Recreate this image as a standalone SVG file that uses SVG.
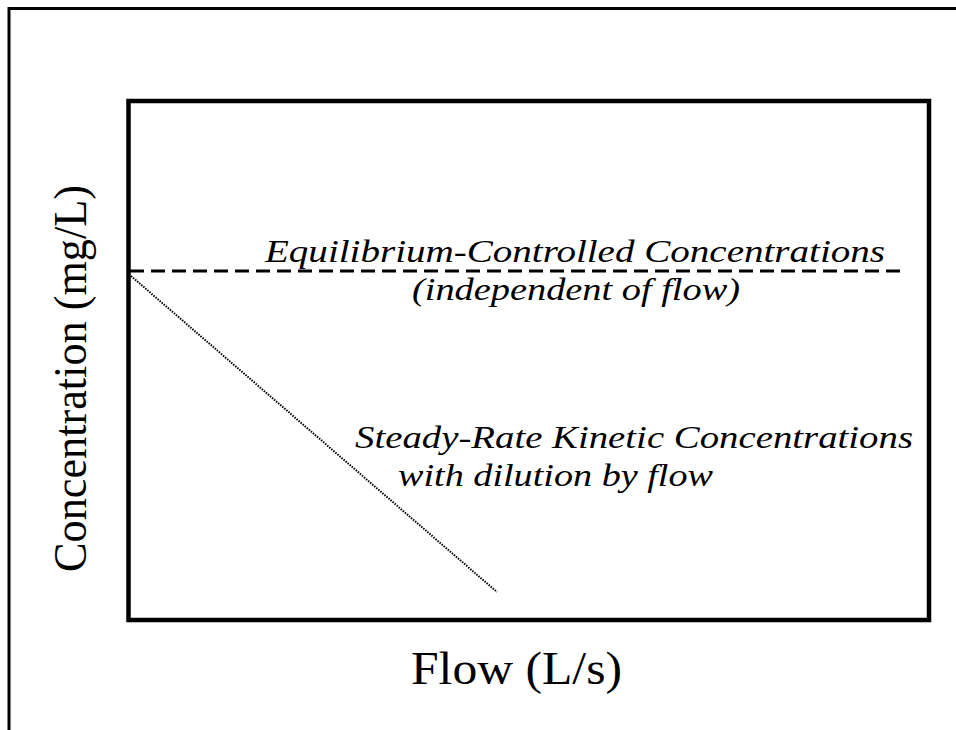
<svg xmlns="http://www.w3.org/2000/svg" width="956" height="730" viewBox="0 0 956 730">
<style>
.lbl{font-family:"Liberation Serif","Times New Roman",serif;font-style:italic;font-size:31px;fill:#000}
.ax{font-family:"Liberation Serif","Times New Roman",serif;font-size:46px;fill:#000}
</style>
<rect width="956" height="730" fill="#fff"/>
<g id="frame">
<path d="M9,730 V8.5 H956" fill="none" stroke="#000" stroke-width="3"/>
</g>
<g id="plot">
<rect x="128.5" y="101" width="800.5" height="519" fill="none" stroke="#000" stroke-width="4.5"/>
</g>
<g id="connectors">
<line x1="130" y1="271" x2="900" y2="271" stroke="#000" stroke-width="3" stroke-dasharray="14,7"/>
<line x1="131" y1="276" x2="497" y2="592" stroke="#000" stroke-width="2" stroke-dasharray="1.5,1.2"/>
</g>
<g id="equilibrium">
<text class="lbl" x="265" y="262" textLength="620" lengthAdjust="spacingAndGlyphs">Equilibrium-Controlled Concentrations</text>
<text class="lbl" x="412" y="300" textLength="328" lengthAdjust="spacingAndGlyphs">(independent of flow)</text>
</g>
<g id="kinetic">
<text class="lbl" x="355" y="448" textLength="558" lengthAdjust="spacingAndGlyphs">Steady-Rate Kinetic Concentrations</text>
<text class="lbl" x="398" y="486" textLength="315" lengthAdjust="spacingAndGlyphs">with dilution by flow</text>
</g>
<g id="xaxis">
<text class="ax" x="411" y="684" textLength="211" lengthAdjust="spacingAndGlyphs">Flow (L/s)</text>
</g>
<g id="yaxis">
<text class="ax" transform="translate(86,572) rotate(-90)" x="0" y="0" textLength="387" lengthAdjust="spacingAndGlyphs">Concentration (mg/L)</text>
</g>
</svg>
